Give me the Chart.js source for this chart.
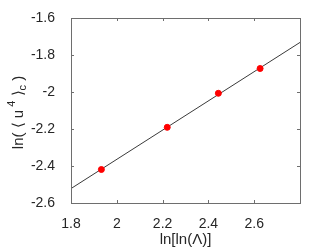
<!DOCTYPE html>
<html lang="en">
<head>
<meta charset="UTF-8">
<title>ln u4 fit</title>
<script src="https://cdn.jsdelivr.net/npm/chart.js"></script>
<style>
  html, body { margin: 0; padding: 0; background: #fff; }
  #box { width: 332px; height: 249px; }
</style>
</head>
<body>
<div id="box"><canvas id="myChart"></canvas></div>
<script>
// data
const lnlnLambda = [1.9327, 2.2203, 2.4435, 2.6258];
const lnU4c = [-2.419, -2.191, -2.007, -1.873];
// fitted straight line, two end points
const fitX = [1.8, 2.8];
const fitY = [-2.522, -1.732];
const xTicks = [1.8, 2, 2.2, 2.4, 2.6, 2.8];
const yTicks = [-2.6, -2.4, -2.2, -2, -1.8, -1.6];

const axisGray = '#6e6e6e';
const textGray = '#262626';
const fontName = '"Liberation Sans", Arial, sans-serif';

// box round the plot + inward tick marks on all four sides
const boxTicks = {
  id: 'boxTicks',
  afterDatasetsDraw(chart) {
    const { ctx, chartArea: a, scales } = chart;
    ctx.save();
    ctx.strokeStyle = axisGray;
    ctx.lineWidth = 1;
    ctx.strokeRect(Math.round(a.left) + 0.5, Math.round(a.top) + 0.5,
      Math.round(a.right - a.left), Math.round(a.bottom - a.top));
    ctx.beginPath();
    const len = 3;
    xTicks.forEach(v => {
      const px = Math.round(scales.x.getPixelForValue(v)) + 0.5;
      ctx.moveTo(px, a.bottom); ctx.lineTo(px, a.bottom - len);
      ctx.moveTo(px, a.top); ctx.lineTo(px, a.top + len);
    });
    yTicks.forEach(v => {
      const py = Math.round(scales.y.getPixelForValue(v)) + 0.5;
      ctx.moveTo(a.left, py); ctx.lineTo(a.left + len, py);
      ctx.moveTo(a.right, py); ctx.lineTo(a.right - len, py);
    });
    ctx.stroke();
    ctx.restore();
  }
};

// y title with super- and subscript: ln( <u^4>_c )
const yTitle = {
  id: 'yTitle',
  afterDraw(chart) {
    const { ctx, chartArea: a } = chart;
    const parts = [
      { t: 'ln(', s: 15, d: 0 },
      { t: ' \u27E8 ', s: 15, d: 0 },
      { t: 'u', s: 15, d: 0 },
      { t: ' 4', s: 11, d: -7 },
      { t: ' \u27E9', s: 15, d: 0 },
      { t: 'c', s: 11, d: 4 },
      { t: ' )', s: 15, d: 0 }
    ];
    ctx.save();
    ctx.fillStyle = textGray;
    ctx.textBaseline = 'middle';
    let w = 0;
    parts.forEach(p => { ctx.font = p.s + 'px ' + fontName; w += ctx.measureText(p.t).width; });
    ctx.translate(19, (a.top + a.bottom) / 2 + 2);
    ctx.rotate(-Math.PI / 2);
    let x = -w / 2;
    parts.forEach(p => {
      ctx.font = p.s + 'px ' + fontName;
      ctx.fillText(p.t, x, p.d);
      x += ctx.measureText(p.t).width;
    });
    ctx.restore();
  }
};

const fmt = v => String(Math.round(v * 10) / 10);

const ctx = document.querySelector('#myChart');
const chart = new Chart(ctx, {
  type: 'scatter',
  data: {
    datasets: [{
      label: 'fit',
      data: fitX.map((x, i) => ({ x: x, y: fitY[i] })),
      showLine: true,
      borderColor: '#3a3a3a',
      borderWidth: 1,
      pointRadius: 0,
      order: 2
    }, {
      label: 'data',
      data: lnlnLambda.map((x, i) => ({ x: x, y: lnU4c[i] })),
      backgroundColor: '#ff0000',
      borderColor: '#ff0000',
      pointRadius: 3,
      order: 1
    }]
  },
  plugins: [boxTicks, yTitle],
  options: {
    responsive: true,
    maintainAspectRatio: false,
    animation: false,
    layout: { padding: { top: 18, right: 32, left: 0, bottom: 0 } },
    plugins: { legend: { display: false }, tooltip: { enabled: false } },
    scales: {
      x: {
        type: 'linear',
        min: 1.8, max: 2.8,
        afterBuildTicks: s => { s.ticks = xTicks.map(v => ({ value: v })); },
        afterFit: s => { s.height = 46; },
        grid: { display: false },
        border: { display: false },
        ticks: {
          color: textGray,
          font: { family: fontName, size: 14 },
          padding: 5,
          maxRotation: 0,
          callback: v => (v >= 2.79 ? '' : fmt(v))
        },
        title: {
          display: true,
          text: 'ln[ln(\u039B)]',
          color: textGray,
          font: { family: fontName, size: 15 },
          padding: { top: 0, bottom: 0 }
        }
      },
      y: {
        type: 'linear',
        min: -2.6, max: -1.6,
        afterBuildTicks: s => { s.ticks = yTicks.map(v => ({ value: v })); },
        afterFit: s => { s.width = 71; },
        grid: { display: false },
        border: { display: false },
        ticks: {
          color: textGray,
          font: { family: fontName, size: 14 },
          padding: 8,
          callback: v => fmt(v)
        }
      }
    }
  }
});
</script>
</body>
</html>
